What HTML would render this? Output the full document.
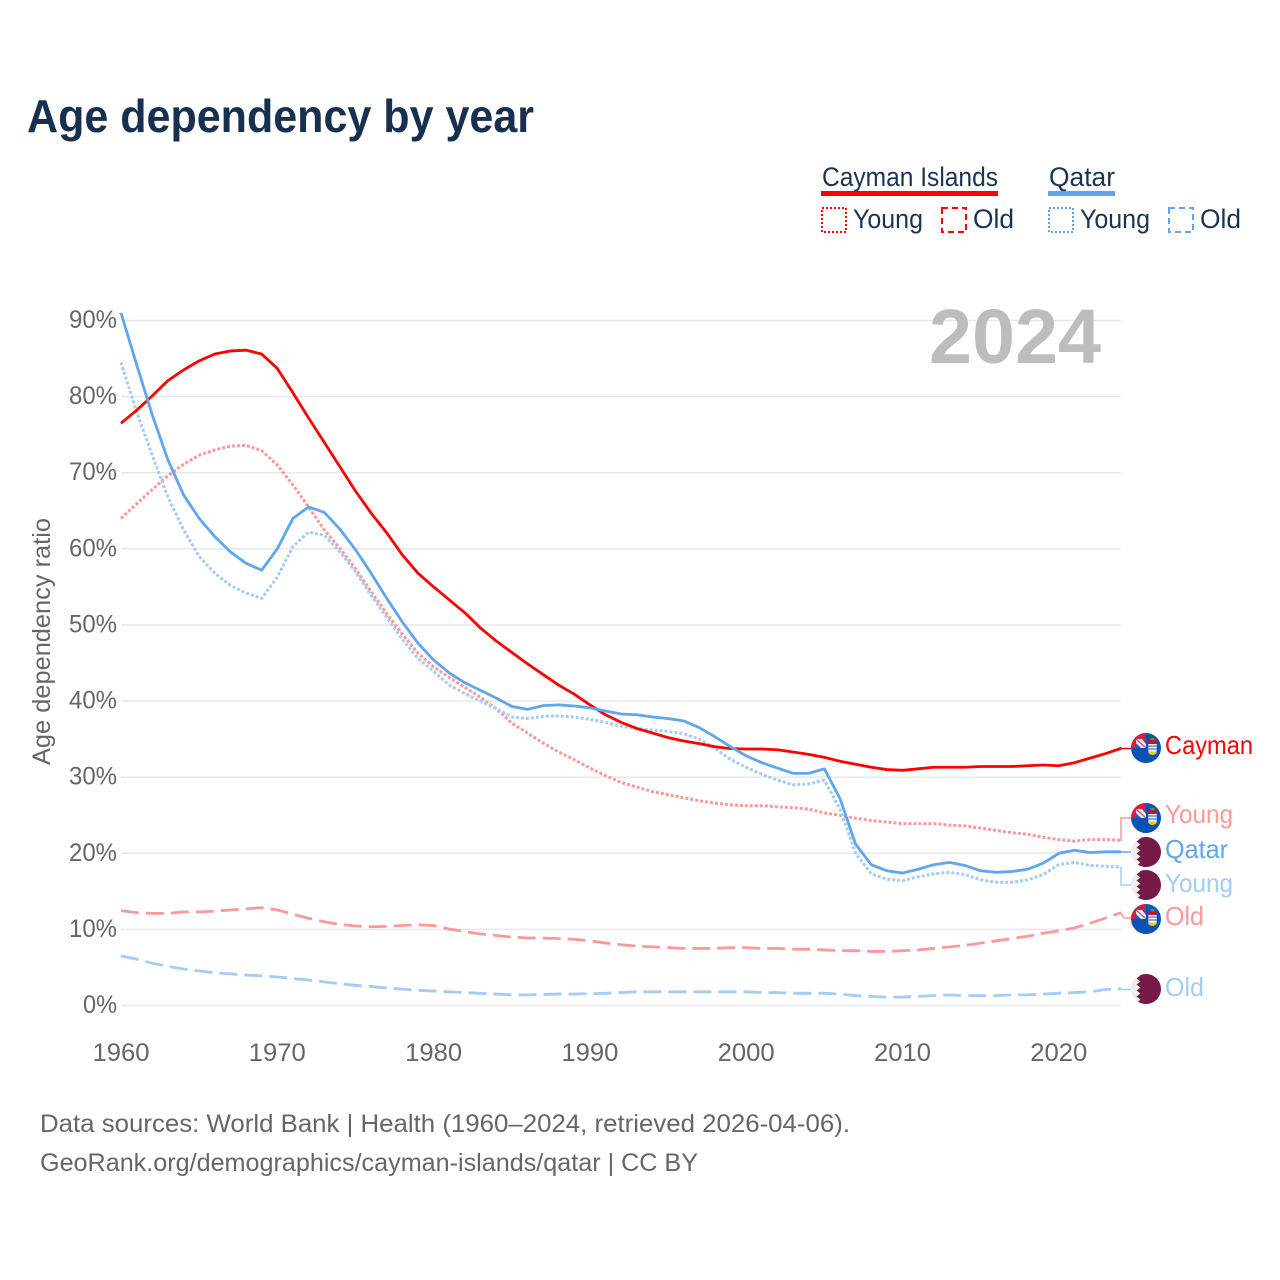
<!DOCTYPE html>
<html lang="en">
<head>
<meta charset="utf-8">
<title>Age dependency by year</title>
<style>
html,body{margin:0;padding:0;background:#fff;}
svg{display:block;}
text{font-family:"Liberation Sans",sans-serif;}
</style>
</head>
<body>
<svg id="chart" xmlns="http://www.w3.org/2000/svg" width="1280" height="1280" viewBox="0 0 1280 1280">
<defs>
<clipPath id="flag-clip"><circle cx="0" cy="0" r="15"/></clipPath>
<symbol id="flag-cayman" overflow="visible">
<g clip-path="url(#flag-clip)">
<rect x="-15" y="-15" width="30" height="30" fill="#0a52b5"/>
<rect x="-15" y="-15" width="15" height="15" fill="#d81e3f"/>
<rect x="-10" y="-9" width="10" height="9" fill="#ece6ec"/>
<path d="M-10 -5V0H-5Z" fill="#2a5cab"/>
<path d="M-4 -9H0V-4Z" fill="#2a5cab"/>
<path d="M-10 -9L0 0" stroke="#c8506a" stroke-width="1.200"/>
<rect x="2.300" y="-8" width="8.400" height="4" fill="#c8102e"/>
<rect x="2.300" y="-4" width="8.400" height="7.500" fill="#f4f4f4"/>
<path d="M2.300 -2H10.700M2.300 1H10.700" stroke="#3f80c8" stroke-width="1.300"/>
<path d="M2.300 3.500H10.700V5Q6.500 9 2.300 5Z" fill="#f2c81e"/>
<rect x="4.500" y="-10" width="4" height="2.200" fill="#4e9a3c"/>
</g>
</symbol>
<symbol id="flag-qatar" overflow="visible">
<g clip-path="url(#flag-clip)">
<rect x="-15" y="-15" width="30" height="30" fill="#eeeeee"/>
<polygon fill="#751a46" points="15,-15 -9.500,-15 -5.500,-13.500 -9.500,-10.500 -5.500,-7.500 -9.500,-4.500 -5.500,-1.500 -9.500,1.500 -5.500,4.500 -9.500,7.500 -5.500,10.500 -9.500,13.500 -5.500,15 15,15"/>
</g>
</symbol>
</defs>

<text x="27" y="132" font-size="46" font-weight="700" fill="#17304f" textLength="507" lengthAdjust="spacingAndGlyphs">Age dependency by year</text>

<g fill="#1a3354" font-size="27">
<text x="822" y="186" textLength="176" lengthAdjust="spacingAndGlyphs">Cayman Islands</text>
<rect x="821" y="191" width="177" height="5" fill="#ff0000"/>
<text x="1049" y="186" textLength="66" lengthAdjust="spacingAndGlyphs">Qatar</text>
<rect x="1048" y="191" width="67" height="5" fill="#5fa6ee"/>
<rect x="822" y="208" width="24" height="24" fill="none" stroke="#ff0000" stroke-width="2" stroke-dasharray="2 2"/>
<text x="853" y="228" textLength="70" lengthAdjust="spacingAndGlyphs">Young</text>
<rect x="942" y="208" width="24" height="24" fill="none" stroke="#ff0000" stroke-width="2" stroke-dasharray="6 4"/>
<text x="973" y="228" textLength="41" lengthAdjust="spacingAndGlyphs">Old</text>
<rect x="1049" y="208" width="24" height="24" fill="none" stroke="#5fa6ee" stroke-width="2" stroke-dasharray="2 2"/>
<text x="1080" y="228" textLength="70" lengthAdjust="spacingAndGlyphs">Young</text>
<rect x="1169" y="208" width="24" height="24" fill="none" stroke="#5fa6ee" stroke-width="2" stroke-dasharray="6 4"/>
<text x="1200" y="228" textLength="41" lengthAdjust="spacingAndGlyphs">Old</text>
</g>

<g id="grid"></g>
<g id="yticks" fill="#666666" font-size="25"></g>
<g id="xticks" fill="#666666" font-size="25"></g>

<text x="929" y="363" font-size="77" font-weight="700" fill="#bdbdbd" textLength="172" lengthAdjust="spacingAndGlyphs">2024</text>
<text transform="translate(50,765) rotate(-90)" x="0" y="0" font-size="25" fill="#666666" textLength="247" lengthAdjust="spacingAndGlyphs">Age dependency ratio</text>

<g id="series"></g>

<g fill="none" stroke-width="1.500">
<path d="M1121 748.500H1131" stroke="#ff0000"/>
<path d="M1121 841V818H1131" stroke="#ff9999"/>
<path d="M1121 852H1131" stroke="#5fa6ee"/>
<path d="M1121 867V885H1131" stroke="#a3ccf6"/>
<path d="M1121 913L1124 918H1131" stroke="#ff9999"/>
<path d="M1121 989.500H1131" stroke="#a3ccf6"/>
</g>

<use href="#flag-cayman" x="1146" y="748"/>
<use href="#flag-cayman" x="1146" y="818"/>
<use href="#flag-qatar" x="1146" y="852"/>
<use href="#flag-qatar" x="1146" y="885"/>
<use href="#flag-cayman" x="1146" y="919"/>
<use href="#flag-qatar" x="1146" y="989"/>

<g font-size="26">
<text x="1165" y="754" fill="#ff0000" textLength="88" lengthAdjust="spacingAndGlyphs">Cayman</text>
<text x="1165" y="823" fill="#ff9999" textLength="68" lengthAdjust="spacingAndGlyphs">Young</text>
<text x="1165" y="858" fill="#5fa6ee" textLength="63" lengthAdjust="spacingAndGlyphs">Qatar</text>
<text x="1165" y="892" fill="#a3ccf6" textLength="68" lengthAdjust="spacingAndGlyphs">Young</text>
<text x="1165" y="925" fill="#ff9999" textLength="39" lengthAdjust="spacingAndGlyphs">Old</text>
<text x="1165" y="996" fill="#a3ccf6" textLength="39" lengthAdjust="spacingAndGlyphs">Old</text>
</g>

<g font-size="25" fill="#666666">
<text x="40" y="1132" textLength="810" lengthAdjust="spacingAndGlyphs">Data sources: World Bank | Health (1960–2024, retrieved 2026-04-06).</text>
<text x="40" y="1171" textLength="658" lengthAdjust="spacingAndGlyphs">GeoRank.org/demographics/cayman-islands/qatar | CC BY</text>
</g>
</svg>

<script>
var startYear = 1960;
var xTickYears = [1960, 1970, 1980, 1990, 2000, 2010, 2020];
var yTickValues = [0, 10, 20, 30, 40, 50, 60, 70, 80, 90];

var caymanTotal = [76.5,78.2,80.1,82.1,83.5,84.7,85.6,86.0,86.1,85.6,83.7,80.5,77.2,74.0,70.8,67.6,64.7,62.1,59.2,56.8,55.0,53.3,51.6,49.6,47.9,46.4,44.9,43.5,42.1,40.9,39.5,38.2,37.2,36.4,35.8,35.2,34.75,34.4,34.0,33.75,33.7,33.7,33.6,33.3,33.0,32.6,32.1,31.7,31.3,31.0,30.9,31.1,31.3,31.3,31.3,31.4,31.4,31.4,31.5,31.6,31.5,31.9,32.5,33.1,33.8];
var caymanYoung = [64.0,65.9,67.8,69.6,71.1,72.3,73.0,73.5,73.6,72.9,71.0,68.4,65.5,62.5,60.1,57.4,54.4,51.5,48.8,46.3,44.5,43.1,41.8,40.5,39.0,37.1,35.8,34.5,33.3,32.3,31.2,30.2,29.3,28.7,28.1,27.7,27.3,26.9,26.6,26.35,26.25,26.25,26.1,26.0,25.8,25.3,25.0,24.6,24.3,24.1,23.9,23.9,23.9,23.7,23.6,23.3,23.0,22.7,22.5,22.1,21.8,21.6,21.8,21.8,21.7];
var caymanOld = [12.46,12.2,12.1,12.1,12.3,12.3,12.4,12.55,12.7,12.85,12.55,12.0,11.45,11.0,10.65,10.45,10.35,10.4,10.5,10.6,10.5,10.05,9.7,9.4,9.2,9.0,8.87,8.85,8.8,8.7,8.5,8.2,8.0,7.8,7.7,7.6,7.5,7.5,7.5,7.6,7.6,7.5,7.5,7.4,7.4,7.3,7.2,7.2,7.1,7.1,7.2,7.3,7.5,7.7,7.9,8.2,8.5,8.8,9.1,9.5,9.8,10.2,10.8,11.5,12.2];
var qatarTotal = [91.0,84.2,77.6,71.7,67.1,64.0,61.6,59.6,58.1,57.2,60.0,64.0,65.5,64.8,62.6,59.9,56.8,53.5,50.4,47.6,45.4,43.7,42.4,41.4,40.4,39.3,38.9,39.4,39.5,39.35,39.1,38.7,38.3,38.2,37.9,37.7,37.4,36.5,35.3,34.0,32.8,31.9,31.2,30.5,30.5,31.1,27.2,21.2,18.5,17.7,17.4,17.9,18.5,18.8,18.4,17.7,17.5,17.6,17.9,18.7,20.0,20.4,20.1,20.2,20.2];
var qatarYoung = [84.5,78.0,72.3,66.8,62.5,59.0,56.8,55.2,54.2,53.5,56.3,60.3,62.2,61.8,59.6,57.0,53.9,51.0,48.1,45.6,43.9,42.1,41.0,40.0,39.0,37.9,37.7,38.0,38.05,37.9,37.6,37.2,36.7,36.4,36.2,36.0,35.7,35.0,33.8,32.3,31.3,30.4,29.6,29.0,29.1,29.6,25.8,20.0,17.3,16.6,16.4,16.9,17.3,17.5,17.2,16.5,16.2,16.2,16.5,17.2,18.5,18.8,18.4,18.3,18.2];
var qatarOld = [6.5,6.1,5.55,5.15,4.8,4.55,4.3,4.15,4.0,3.9,3.75,3.55,3.35,3.1,2.85,2.65,2.5,2.3,2.15,2.0,1.9,1.8,1.7,1.6,1.5,1.4,1.4,1.45,1.5,1.5,1.55,1.6,1.7,1.8,1.8,1.8,1.8,1.8,1.8,1.8,1.8,1.7,1.7,1.6,1.6,1.6,1.5,1.3,1.2,1.1,1.1,1.2,1.3,1.4,1.3,1.3,1.3,1.4,1.4,1.5,1.6,1.7,1.8,2.1,2.2];

var NS = 'http://www.w3.org/2000/svg';
function xScale(year) { return 121 + (year - 1960) * 15.63; }
function yScale(value) { return 1005.5 - value * 7.611; }

function drawLine(values, name, color, width, dash) {
  var d = '';
  for (var i = 0; i < values.length; i++) {
    d += (i ? 'L' : 'M') + xScale(startYear + i).toFixed(2) + ' ' + yScale(values[i]).toFixed(2);
  }
  var p = document.createElementNS(NS, 'path');
  
  
  p.setAttribute('d', d);
  p.setAttribute('fill', 'none');
  p.setAttribute('stroke', color);
  p.setAttribute('stroke-width', width);
  p.setAttribute('stroke-linejoin', 'round');
  if (dash) { p.setAttribute('stroke-dasharray', dash); }
  document.getElementById('series').appendChild(p);
}

yTickValues.forEach(function (v) {
  var line = document.createElementNS(NS, 'line');
  
  
  line.setAttribute('x1', 121);
  line.setAttribute('x2', 1121);
  line.setAttribute('y1', yScale(v));
  line.setAttribute('y2', yScale(v));
  line.setAttribute('stroke', '#e8e8e8');
  line.setAttribute('stroke-width', '1.500');
  document.getElementById('grid').appendChild(line);

  var t = document.createElementNS(NS, 'text');
  
  
  t.setAttribute('x', 117);
  t.setAttribute('y', yScale(v) + 7.500);
  t.setAttribute('text-anchor', 'end');
  t.setAttribute('textLength', v === 0 ? 34 : 48);
  t.setAttribute('lengthAdjust', 'spacingAndGlyphs');
  t.textContent = v + '%';
  document.getElementById('yticks').appendChild(t);
});

xTickYears.forEach(function (yr) {
  var t = document.createElementNS(NS, 'text');
  
  
  t.setAttribute('x', xScale(yr));
  t.setAttribute('y', 1061);
  t.setAttribute('text-anchor', 'middle');
  t.setAttribute('textLength', 57);
  t.setAttribute('lengthAdjust', 'spacingAndGlyphs');
  t.textContent = yr;
  document.getElementById('xticks').appendChild(t);
});

drawLine(caymanOld, 'line-cayman-old', '#ff9999', 2.8, '18 7');
drawLine(qatarOld, 'line-qatar-old', '#a3ccf6', 2.8, '18 7');
drawLine(caymanYoung, 'line-cayman-young', '#ff9999', 3, '3 2');
drawLine(qatarYoung, 'line-qatar-young', '#a3ccf6', 3, '3 2');
drawLine(caymanTotal, 'line-cayman-total', '#ff0000', 2.8);
drawLine(qatarTotal, 'line-qatar-total', '#5fa6ee', 2.8);
</script>
</body>
</html>
